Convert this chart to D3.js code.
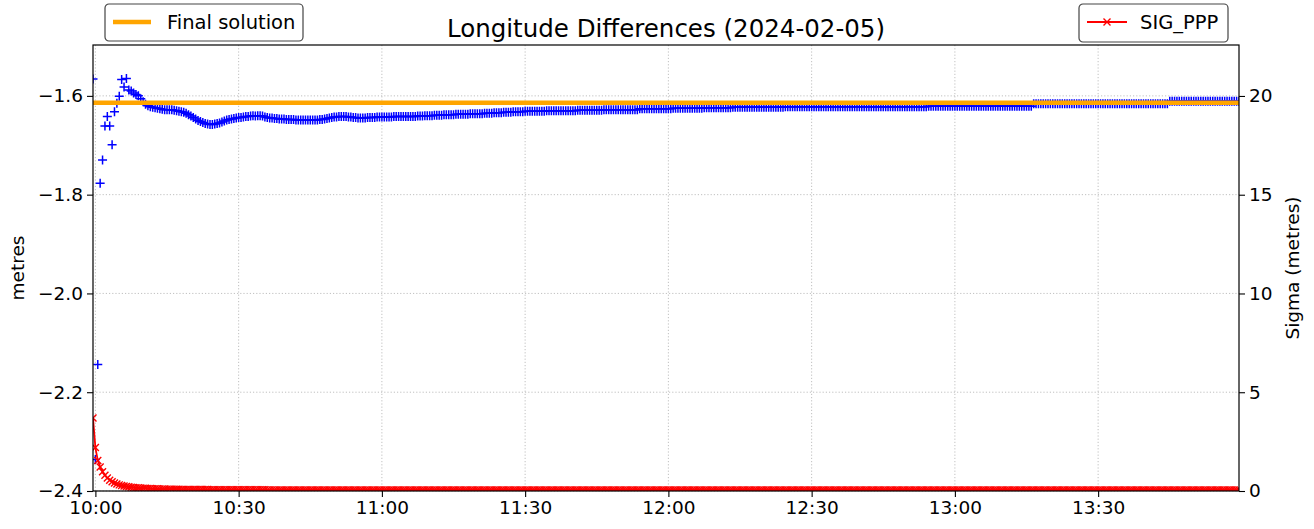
<!DOCTYPE html>
<html>
<head>
<meta charset="utf-8">
<script src="https://cdn.jsdelivr.net/npm/d3@7"></script>
<style>
  body { margin: 0; background: #fff; }
  text { font-family: "DejaVu Sans", sans-serif; fill: #000; }
</style>
</head>
<body>
<svg id="chart" width="1314" height="529"></svg>
<script>
// epochs every 30 s starting at 09:59:30
const epochStart = '09:59:30';
const epochSeconds = 30;

// longitude difference (metres), one value per epoch
const lonDiff = [
  -1.566,-2.336,-2.144,-1.777,-1.730,-1.661,-1.642,-1.661,-1.699,-1.632,-1.615,-1.601,-1.567,-1.582,-1.565,-1.588,-1.590,-1.594,-1.597,-1.600,
  -1.606,-1.612,-1.617,-1.620,-1.622,-1.623,-1.624,-1.625,-1.626,-1.627,-1.628,-1.628,-1.628,-1.628,-1.629,-1.630,-1.631,-1.632,-1.633,-1.635,
  -1.638,-1.641,-1.644,-1.647,-1.650,-1.652,-1.654,-1.656,-1.657,-1.658,-1.658,-1.657,-1.656,-1.655,-1.653,-1.651,-1.649,-1.648,-1.647,-1.646,
  -1.645,-1.644,-1.644,-1.643,-1.642,-1.642,-1.641,-1.640,-1.641,-1.640,-1.640,-1.641,-1.643,-1.644,-1.645,-1.645,-1.646,-1.646,-1.647,-1.647,
  -1.647,-1.648,-1.648,-1.648,-1.648,-1.649,-1.649,-1.649,-1.649,-1.649,-1.649,-1.649,-1.649,-1.649,-1.649,-1.648,-1.648,-1.647,-1.646,-1.645,
  -1.644,-1.643,-1.643,-1.642,-1.642,-1.642,-1.642,-1.643,-1.643,-1.644,-1.644,-1.645,-1.645,-1.645,-1.645,-1.644,-1.644,-1.644,-1.644,-1.643,
  -1.643,-1.643,-1.643,-1.643,-1.643,-1.643,-1.642,-1.642,-1.642,-1.642,-1.642,-1.642,-1.642,-1.642,-1.642,-1.642,-1.641,-1.641,-1.641,-1.640,
  -1.640,-1.640,-1.640,-1.639,-1.639,-1.639,-1.639,-1.638,-1.638,-1.638,-1.638,-1.638,-1.637,-1.637,-1.637,-1.637,-1.637,-1.637,-1.636,-1.636,
  -1.636,-1.636,-1.636,-1.636,-1.635,-1.635,-1.635,-1.635,-1.634,-1.634,-1.634,-1.634,-1.633,-1.633,-1.633,-1.633,-1.632,-1.632,-1.632,-1.632,
  -1.632,-1.631,-1.631,-1.631,-1.631,-1.631,-1.631,-1.631,-1.631,-1.631,-1.630,-1.630,-1.630,-1.630,-1.630,-1.630,-1.630,-1.630,-1.630,-1.630,
  -1.630,-1.630,-1.630,-1.629,-1.629,-1.629,-1.629,-1.629,-1.629,-1.629,-1.629,-1.629,-1.629,-1.629,-1.628,-1.628,-1.628,-1.628,-1.628,-1.628,
  -1.628,-1.628,-1.628,-1.628,-1.628,-1.628,-1.628,-1.628,-1.628,-1.626,-1.626,-1.626,-1.626,-1.626,-1.626,-1.626,-1.626,-1.626,-1.626,-1.626,
  -1.626,-1.626,-1.626,-1.625,-1.625,-1.625,-1.625,-1.625,-1.625,-1.625,-1.625,-1.625,-1.625,-1.625,-1.625,-1.625,-1.624,-1.624,-1.624,-1.624,
  -1.624,-1.624,-1.624,-1.624,-1.624,-1.624,-1.624,-1.624,-1.623,-1.623,-1.623,-1.623,-1.623,-1.623,-1.623,-1.623,-1.623,-1.623,-1.623,-1.623,
  -1.623,-1.623,-1.623,-1.623,-1.623,-1.623,-1.623,-1.623,-1.623,-1.623,-1.622,-1.622,-1.622,-1.622,-1.622,-1.622,-1.622,-1.622,-1.622,-1.622,
  -1.622,-1.622,-1.622,-1.622,-1.622,-1.622,-1.622,-1.622,-1.622,-1.622,-1.622,-1.622,-1.622,-1.622,-1.622,-1.622,-1.622,-1.622,-1.622,-1.622,
  -1.622,-1.622,-1.622,-1.622,-1.622,-1.622,-1.622,-1.622,-1.622,-1.622,-1.622,-1.622,-1.622,-1.622,-1.622,-1.622,-1.622,-1.622,-1.622,-1.622,
  -1.622,-1.622,-1.622,-1.622,-1.622,-1.622,-1.622,-1.622,-1.622,-1.622,-1.621,-1.621,-1.621,-1.621,-1.621,-1.621,-1.621,-1.621,-1.621,-1.621,
  -1.621,-1.621,-1.621,-1.621,-1.621,-1.621,-1.621,-1.621,-1.621,-1.621,-1.621,-1.621,-1.621,-1.621,-1.621,-1.621,-1.621,-1.621,-1.621,-1.621,
  -1.621,-1.621,-1.621,-1.621,-1.621,-1.621,-1.621,-1.621,-1.621,-1.621,-1.621,-1.621,-1.621,-1.621,-1.616,-1.616,-1.616,-1.616,-1.616,-1.616,
  -1.616,-1.616,-1.616,-1.616,-1.616,-1.616,-1.616,-1.616,-1.616,-1.616,-1.616,-1.616,-1.616,-1.616,-1.616,-1.616,-1.616,-1.616,-1.616,-1.616,
  -1.616,-1.616,-1.616,-1.616,-1.616,-1.616,-1.616,-1.616,-1.616,-1.616,-1.616,-1.616,-1.616,-1.616,-1.616,-1.616,-1.616,-1.616,-1.616,-1.616,
  -1.616,-1.616,-1.616,-1.616,-1.616,-1.616,-1.616,-1.616,-1.616,-1.616,-1.616,-1.611,-1.611,-1.611,-1.611,-1.611,-1.611,-1.611,-1.611,-1.611,
  -1.611,-1.611,-1.611,-1.611,-1.611,-1.611,-1.611,-1.611,-1.611,-1.611,-1.611,-1.611,-1.611,-1.611,-1.611,-1.611,-1.611,-1.611,-1.611,-1.611,
  -1.611
];

// SIG_PPP sigma (metres), one value per epoch
const sigmaPPP = [
  3.70,2.20,1.55,1.22,0.98,0.80,0.66,0.55,0.47,0.40,0.35,0.31,0.28,0.25,0.23,0.21,0.19,0.18,0.17,0.16,
  0.150,0.142,0.135,0.129,0.123,0.118,0.113,0.109,0.105,0.101,0.098,0.095,0.092,0.090,0.088,0.086,0.084,0.082,0.080,0.079,
  0.078,0.077,0.076,0.075,0.074,0.073,0.072,0.071,0.070,0.069,0.068,0.068,0.067,0.066,0.066,0.065,0.065,0.064,0.064,0.063,
  0.063,0.062,0.062,0.061,0.061,0.060,0.060,0.060,0.059,0.059,0.058,0.058,0.058,0.057,0.057,0.057,0.056,0.056,0.056,0.055,
  0.055,0.055,0.055,0.055,0.055,0.055,0.055,0.055,0.055,0.055,0.055,0.055,0.055,0.055,0.055,0.055,0.055,0.055,0.055,0.055,
  0.054,0.054,0.054,0.054,0.054,0.054,0.054,0.054,0.054,0.054,0.053,0.053,0.053,0.053,0.053,0.053,0.053,0.053,0.053,0.053,
  0.052,0.052,0.052,0.052,0.052,0.052,0.052,0.052,0.052,0.052,0.052,0.052,0.052,0.052,0.052,0.052,0.052,0.052,0.052,0.052,
  0.051,0.051,0.051,0.051,0.051,0.051,0.051,0.051,0.051,0.051,0.051,0.051,0.051,0.051,0.051,0.051,0.051,0.051,0.051,0.051,
  0.050,0.050,0.050,0.050,0.050,0.050,0.050,0.050,0.050,0.050,0.050,0.050,0.050,0.050,0.050,0.050,0.050,0.050,0.050,0.050,
  0.050,0.050,0.050,0.050,0.050,0.050,0.050,0.050,0.050,0.050,0.050,0.050,0.050,0.050,0.050,0.050,0.050,0.050,0.050,0.050,
  0.049,0.049,0.049,0.049,0.049,0.049,0.049,0.049,0.049,0.049,0.049,0.049,0.049,0.049,0.049,0.049,0.049,0.049,0.049,0.049,
  0.049,0.049,0.049,0.049,0.049,0.049,0.049,0.049,0.049,0.049,0.049,0.049,0.049,0.049,0.049,0.049,0.049,0.049,0.049,0.049,
  0.048,0.048,0.048,0.048,0.048,0.048,0.048,0.048,0.048,0.048,0.048,0.048,0.048,0.048,0.048,0.048,0.048,0.048,0.048,0.048,
  0.048,0.048,0.048,0.048,0.048,0.048,0.048,0.048,0.048,0.048,0.048,0.048,0.048,0.048,0.048,0.048,0.048,0.048,0.048,0.048,
  0.047,0.047,0.047,0.047,0.047,0.047,0.047,0.047,0.047,0.047,0.047,0.047,0.047,0.047,0.047,0.047,0.047,0.047,0.047,0.047,
  0.047,0.047,0.047,0.047,0.047,0.047,0.047,0.047,0.047,0.047,0.047,0.047,0.047,0.047,0.047,0.047,0.047,0.047,0.047,0.047,
  0.046,0.046,0.046,0.046,0.046,0.046,0.046,0.046,0.046,0.046,0.046,0.046,0.046,0.046,0.046,0.046,0.046,0.046,0.046,0.046,
  0.046,0.046,0.046,0.046,0.046,0.046,0.046,0.046,0.046,0.046,0.046,0.046,0.046,0.046,0.046,0.046,0.046,0.046,0.046,0.046,
  0.046,0.046,0.046,0.046,0.046,0.046,0.046,0.046,0.046,0.046,0.046,0.046,0.046,0.046,0.046,0.046,0.046,0.046,0.046,0.046,
  0.046,0.046,0.046,0.046,0.046,0.046,0.046,0.046,0.046,0.046,0.046,0.046,0.046,0.046,0.046,0.046,0.046,0.046,0.046,0.046,
  0.045,0.045,0.045,0.045,0.045,0.045,0.045,0.045,0.045,0.045,0.045,0.045,0.045,0.045,0.045,0.045,0.045,0.045,0.045,0.045,
  0.045,0.045,0.045,0.045,0.045,0.045,0.045,0.045,0.045,0.045,0.045,0.045,0.045,0.045,0.045,0.045,0.045,0.045,0.045,0.045,
  0.045,0.045,0.045,0.045,0.045,0.045,0.045,0.045,0.045,0.045,0.045,0.045,0.045,0.045,0.045,0.045,0.045,0.045,0.045,0.045,
  0.045,0.045,0.045,0.045,0.045,0.045,0.045,0.045,0.045,0.045,0.045,0.045,0.045,0.045,0.045,0.045,0.045,0.045,0.045,0.045,
  0.045
];

const finalSolution = -1.614;

const xTickLabels = ['10:00', '10:30', '11:00', '11:30', '12:00', '12:30', '13:00', '13:30'];
const leftTicks = [-2.4, -2.2, -2.0, -1.8, -1.6];
const rightTicks = [0, 5, 10, 15, 20];

const margin = { top: 45, left: 93, right: 75, bottom: 38 };
const width = 1314 - margin.left - margin.right;
const height = 529 - margin.top - margin.bottom;
const fontSize = 18.5;
const legendFont = 19.5;

const parseTime = d3.timeParse('%H:%M:%S');
const t0 = parseTime(epochStart);
const times = lonDiff.map((_, i) => new Date(+t0 + i * epochSeconds * 1000));

const svg = d3.select('#chart');

const xScale = d3.scaleTime()
    .domain(d3.extent(times))
    .range([0, width]);

const yLeft = d3.scaleLinear()
    .domain([-2.4, -1.497])
    .range([height, 0]);

const yRight = d3.scaleLinear()
    .domain([0, 22.58])
    .range([height, 0]);

svg.append('defs').append('clipPath')
    .attr('id', 'plot-clip')
    .append('rect')
    .attr('width', width)
    .attr('height', height);

const chart = svg.append('g')
    .attr('transform', `translate(${margin.left}, ${margin.top})`);

const xTicks = xTickLabels.map((s) => parseTime(s + ':00'));

// grid
const grid = chart.append('g')
    .attr('stroke', '#b0b0b0')
    .attr('stroke-width', 0.8)
    .attr('stroke-dasharray', '1.2,2');

grid.selectAll('.gx')
    .data(xTicks)
    .enter()
    .append('line')
    .attr('x1', (d) => xScale(d)).attr('x2', (d) => xScale(d))
    .attr('y1', 0).attr('y2', height);

grid.selectAll('.gy')
    .data(leftTicks)
    .enter()
    .append('line')
    .attr('x1', 0).attr('x2', width)
    .attr('y1', (d) => yLeft(d)).attr('y2', (d) => yLeft(d));

const plot = chart.append('g').attr('clip-path', 'url(#plot-clip)');

// longitude differences as '+' markers
plot.append('g')
    .selectAll('path')
    .data(lonDiff)
    .enter()
    .append('path')
    .attr('transform', (d, i) => `translate(${xScale(times[i])}, ${yLeft(d)})`)
    .attr('d', 'M-4.5,0H4.5M0,-4.5V4.5')
    .attr('stroke', '#0000ff')
    .attr('stroke-width', 1.5)
    .attr('fill', 'none');

// final solution line
plot.append('line')
    .attr('x1', 0).attr('x2', width)
    .attr('y1', yLeft(finalSolution)).attr('y2', yLeft(finalSolution))
    .attr('stroke', '#ffa500')
    .attr('stroke-width', 4.5);

// sigma on the right axis
const sigLine = d3.line()
    .x((d, i) => xScale(times[i]))
    .y((d) => yRight(d));

plot.append('path')
    .datum(sigmaPPP)
    .attr('d', sigLine)
    .attr('fill', 'none')
    .attr('stroke', '#ff0000')
    .attr('stroke-width', 1.8);

plot.append('g')
    .selectAll('path')
    .data(sigmaPPP)
    .enter()
    .append('path')
    .attr('transform', (d, i) => `translate(${xScale(times[i])}, ${yRight(d)})`)
    .attr('d', 'M-3.5,-3.5L3.5,3.5M-3.5,3.5L3.5,-3.5')
    .attr('stroke', '#ff0000')
    .attr('stroke-width', 1.4)
    .attr('fill', 'none');

// axes
function styleAxis(g) {
    g.select('.domain').remove();
    g.selectAll('.tick line').attr('stroke', '#000').attr('stroke-width', 1.1);
    g.selectAll('.tick text')
        .attr('font-family', '"DejaVu Sans", sans-serif')
        .attr('font-size', fontSize)
        .attr('fill', '#000');
}

chart.append('g')
    .attr('transform', `translate(0, ${height})`)
    .call(d3.axisBottom(xScale).tickValues(xTicks).tickFormat(d3.timeFormat('%H:%M')).tickSize(6).tickPadding(4))
    .call(styleAxis);

chart.append('g')
    .call(d3.axisLeft(yLeft).tickValues(leftTicks).tickFormat(d3.format('.1f')).tickSize(6).tickPadding(4))
    .call(styleAxis);

chart.append('g')
    .attr('transform', `translate(${width}, 0)`)
    .call(d3.axisRight(yRight).tickValues(rightTicks).tickFormat(d3.format('d')).tickSize(6).tickPadding(4))
    .call(styleAxis);

chart.append('rect')
    .attr('width', width)
    .attr('height', height)
    .attr('fill', 'none')
    .attr('stroke', '#000')
    .attr('stroke-width', 1.2);

// labels
svg.append('text')
    .attr('x', margin.left + width / 2)
    .attr('y', 37)
    .attr('text-anchor', 'middle')
    .attr('font-size', 24.5)
    .text('Longitude Differences (2024-02-05)');

svg.append('text')
    .attr('transform', `translate(24, ${margin.top + height / 2}) rotate(-90)`)
    .attr('text-anchor', 'middle')
    .attr('font-size', fontSize)
    .text('metres');

svg.append('text')
    .attr('transform', `translate(1299, ${margin.top + height / 2}) rotate(-90)`)
    .attr('text-anchor', 'middle')
    .attr('font-size', fontSize)
    .text('Sigma (metres)');

// legends
const legL = svg.append('g').attr('transform', 'translate(105, 4)');
legL.append('rect')
    .attr('width', 198).attr('height', 37).attr('rx', 4)
    .attr('fill', '#fff').attr('stroke', '#444').attr('stroke-width', 1.2);
legL.append('line')
    .attr('x1', 8).attr('x2', 46).attr('y1', 18).attr('y2', 18)
    .attr('stroke', '#ffa500').attr('stroke-width', 4.5);
legL.append('text')
    .attr('x', 62).attr('y', 25)
    .attr('font-size', legendFont)
    .text('Final solution');

const legR = svg.append('g').attr('transform', 'translate(1079, 4)');
legR.append('rect')
    .attr('width', 149).attr('height', 38).attr('rx', 4)
    .attr('fill', '#fff').attr('stroke', '#444').attr('stroke-width', 1.2);
legR.append('line')
    .attr('x1', 8).attr('x2', 48).attr('y1', 18).attr('y2', 18)
    .attr('stroke', '#ff0000').attr('stroke-width', 1.8);
legR.append('path')
    .attr('transform', 'translate(28, 18)')
    .attr('d', 'M-3.5,-3.5L3.5,3.5M-3.5,3.5L3.5,-3.5')
    .attr('stroke', '#ff0000').attr('stroke-width', 1.4);
legR.append('text')
    .attr('x', 61).attr('y', 25)
    .attr('font-size', legendFont)
    .text('SIG_PPP');
</script>
</body>
</html>
